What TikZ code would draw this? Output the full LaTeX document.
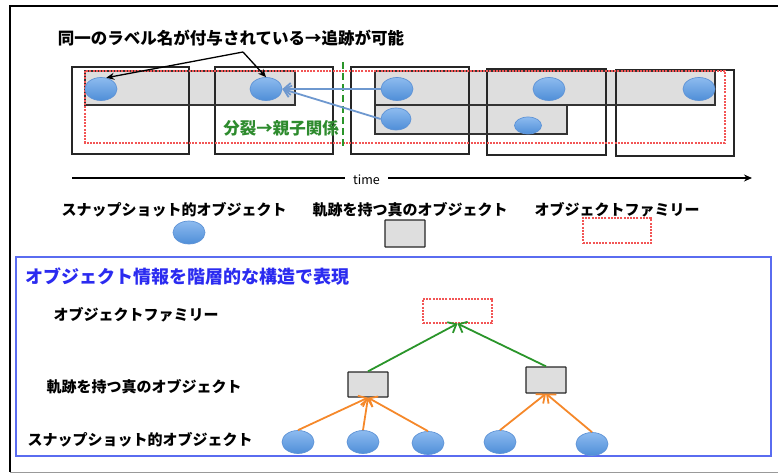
\documentclass[tikz,border=0pt]{standalone}
\usepackage{fontspec}
\newfontfamily\jp{Noto Sans CJK JP}
\usetikzlibrary{arrows.meta,shapes.geometric}
\definecolor{ellT}{HTML}{8DBBEF}
\definecolor{ellBot}{HTML}{4F8ED8}
\definecolor{ellD}{HTML}{5E93D6}
\definecolor{grayF}{HTML}{DEDEDE}
\definecolor{famR}{HTML}{F25555}
\definecolor{arrB}{HTML}{6E98CF}
\definecolor{txtG}{HTML}{2E8B2E}
\definecolor{arrG}{HTML}{2A952A}
\definecolor{arrO}{HTML}{F5882A}
\definecolor{titleB}{HTML}{2B2BF0}
\definecolor{frameB}{HTML}{5A6CF0}
\tikzset{
  snap/.style={ellipse, draw=ellD, line width=0.7pt, top color=ellT, bottom color=ellBot, minimum width=32pt, minimum height=23pt, inner sep=0pt},
  trajline/.style={draw=black!80, line width=1.2pt},
  trajbox/.style={draw=black!85, fill=grayF, line width=1.3pt, inner sep=0pt, rounded corners=0.5pt},
  framebox/.style={draw=black!85, line width=1.2pt},
  fambox/.style={draw=famR, line width=1.2pt, dash pattern=on 2pt off 1.2pt, inner sep=0pt},
  jtext/.style={font=\jp\bfseries\fontsize{15}{15}\selectfont, inner sep=0pt},
  blk/.style={draw=black, line width=1.3pt, -{Stealth[length=8pt,width=7pt]}},
  bluearr/.style={draw=arrB, line width=1.8pt, -{Straight Barb[length=7pt,width=12pt]}},
  orarr/.style={draw=arrO, line width=1.8pt, -{Straight Barb[length=7pt,width=12pt]}},
  grarr/.style={draw=arrG, line width=1.8pt, -{Straight Barb[length=7pt,width=12pt]}}
}
\begin{document}
\begin{tikzpicture}[x=1pt,y=-1pt]
\useasboundingbox (0,0) rectangle (778,473);
% outer frame
\draw[black, line width=1.6pt] (778,6) -- (10,6) -- (10,472);
\draw[black!40, line width=1pt] (10,472) -- (778,472);

% trajectory fills
\fill[grayF] (85,71) rectangle (295,105);
\fill[grayF] (375,71) rectangle (715,105);
\fill[grayF] (375,105) rectangle (567,134);
% time frames
\draw[framebox] (72,67) rectangle (189,154);
\draw[framebox] (215,67) rectangle (333,154);
\draw[framebox] (351,67) rectangle (469,154);
\draw[framebox] (487,69) rectangle (606,155);
\draw[framebox] (616,70) rectangle (734,156);
% trajectory outlines
\draw[trajline] (85,71) rectangle (295,105);
\draw[trajline] (375,71) rectangle (715,105);
\draw[trajline] (375,105) rectangle (567,134);
% family
\draw[fambox] (85,71) rectangle (725,143);
% split line
\draw[arrG, line width=2pt, dash pattern=on 7pt off 4pt] (343,62) -- (343,148);

% snapshot objects
\node[snap] (e1) at (101,89) {};
\node[snap] (e2) at (266,89) {};
\node[snap] (e3) at (397,89) {};
\node[snap] (e4) at (549,89) {};
\node[snap] (e5) at (699,89) {};
\node[snap, minimum width=30pt, minimum height=22pt] (e6) at (396,119) {};
\node[snap, minimum width=27pt, minimum height=17pt] (e7) at (528,125.5) {};

% labels
\node[jtext, font=\jp\bfseries\fontsize{16.5}{16.5}\selectfont] (lab) at (231,38) {同一のラベル名が付与されている→追跡が可能};
\coordinate (apex) at (243,52);
\draw[blk] (apex) -- (e1.65);
\draw[blk] (apex) -- (e2.north);
\draw[bluearr] (e3.west) -- (e2.east);
\draw[bluearr] (e6.west) -- (e2.east);
\node[jtext, text=txtG, font=\jp\bfseries\fontsize{16.5}{16.5}\selectfont] (split) at (281,128) {分裂→親子関係};

% time axis
\coordinate (t0) at (72,178);
\coordinate (t1) at (752,178);
\draw[black, line width=1.6pt, -{Stealth[length=8pt,width=7pt]}] (t0) -- node[pos=0.433, fill=white, inner xsep=8pt, inner ysep=2pt, yshift=-2pt, font=\jp\fontsize{12.5}{12.5}\selectfont] (time) {time} (t1);

% legend
\node[jtext] (lg1) at (174,210) {スナップショット的オブジェクト};
\node[jtext] (lg2) at (410,210) {軌跡を持つ真のオブジェクト};
\node[jtext] (lg3) at (617,210) {オブジェクトファミリー};
\node[snap] (lge) at (189,232.5) {};
\node[trajbox, minimum width=40pt, minimum height=27pt] (lgt) at (405,233.5) {};
\node[fambox, minimum width=68pt, minimum height=25pt] (lgf) at (617,230.5) {};

% hierarchy frame
\draw[frameB, line width=1.4pt] (16,257) rectangle (771,456);
\node[jtext, text=titleB, anchor=west, font=\jp\bfseries\fontsize{18}{18}\selectfont] (title) at (25,277) {オブジェクト情報を階層的な構造で表現};
\node[jtext] (r1) at (136,315) {オブジェクトファミリー};
\node[jtext] (r2) at (144,387) {軌跡を持つ真のオブジェクト};
\node[jtext] (r3) at (140,440) {スナップショット的オブジェクト};

\node[fambox, minimum width=69pt, minimum height=24pt] (fam) at (457.5,311) {};
\node[trajbox, minimum width=40pt, minimum height=25pt] (b1) at (368,384.5) {};
\node[trajbox, minimum width=40pt, minimum height=26pt] (b2) at (546,380) {};
\node[snap] (s1) at (298,442) {};
\node[snap] (s2) at (363,442) {};
\node[snap] (s3) at (428,443) {};
\node[snap] (s4) at (500,442) {};
\node[snap] (s5) at (592,444) {};

\draw[orarr] (s1.north) -- (b1.south);
\draw[orarr] (s2.north) -- (b1.south);
\draw[orarr] (s3.north) -- (b1.south);
\draw[orarr] (s4.north) -- (b2.south);
\draw[orarr] (s5.north) -- (b2.south);
\draw[grarr] (b1.north) -- (fam.south);
\draw[grarr] (b2.north) -- (fam.south);
\end{tikzpicture}
\end{document}
